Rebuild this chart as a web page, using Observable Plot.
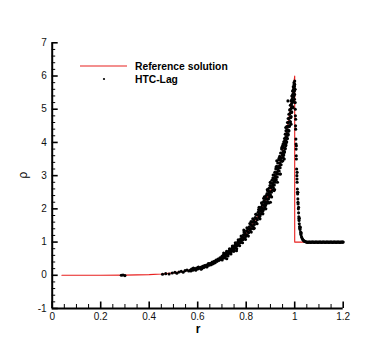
<!DOCTYPE html>
<html><head><meta charset="utf-8">
<script src="https://cdn.jsdelivr.net/npm/d3@7"></script>
<script src="https://cdn.jsdelivr.net/npm/@observablehq/plot@0.6"></script>
<style>
body{margin:0;background:#fff;}
#wrap{position:relative;width:390px;height:347px;font-family:"Liberation Sans",Arial,sans-serif;}
#ov{position:absolute;left:0;top:0;pointer-events:none;}
</style>
</head><body><div id="wrap"></div>
<script>
// Reference solution (r, rho)
const refR   = [0.04, 0.10, 0.20, 0.30, 0.40, 0.45, 0.50, 0.55, 0.60, 0.65, 0.70, 0.75, 0.80, 0.85, 0.90, 0.9342, 0.9622, 0.9773, 0.9913, 1.0, 1.0, 1.2];
const refRho = [0.00, 0.00, 0.0002, 0.004, 0.02, 0.04, 0.072, 0.13, 0.21, 0.34, 0.54, 0.83, 1.25, 1.80, 2.545, 3.245, 4.128, 4.796, 5.465, 6.0, 1.0, 1.0];

// HTC-Lag scatter (r, rho), grouped by region
const htcSparse = [[0.285,0.00],[0.292,0.01],[0.300,-0.01],[0.455,0.03],[0.468,0.05],[0.482,0.04],[0.495,0.07],[0.506,0.09],[0.514,0.06],[0.523,0.10],[0.532,0.12],[0.540,0.09],[0.548,0.14],[0.556,0.16],[0.563,0.13]];
const htcLow = [[0.570,0.16],[0.575,0.19],[0.580,0.15],[0.585,0.20],[0.590,0.18],[0.595,0.22],[0.600,0.19],[0.603,0.25],[0.607,0.21],[0.612,0.24],[0.616,0.20],[0.620,0.27],[0.624,0.23],[0.628,0.29],[0.632,0.26],[0.636,0.31],[0.640,0.28],[0.644,0.35],[0.648,0.30],[0.652,0.36],[0.656,0.32],[0.660,0.40],[0.664,0.35],[0.668,0.42],[0.672,0.38],[0.676,0.46],[0.680,0.42],[0.684,0.49],[0.688,0.45],[0.692,0.53],[0.696,0.48],[0.700,0.57],[0.703,0.51],
  [0.572,0.13],[0.582,0.22],[0.592,0.15],[0.602,0.23],[0.614,0.18],[0.626,0.27],[0.638,0.25],[0.646,0.33],[0.658,0.36],[0.666,0.38],[0.674,0.43],[0.682,0.46],[0.690,0.49],[0.698,0.52]];
const htcMidA = [[0.705,0.60],[0.708,0.55],[0.711,0.63],[0.714,0.57],[0.717,0.66],[0.720,0.61],[0.723,0.70],[0.726,0.64],[0.729,0.74],[0.732,0.67],[0.735,0.77],[0.738,0.70],[0.741,0.81],[0.744,0.74],[0.747,0.86],[0.750,0.78],[0.753,0.90],[0.756,0.83],[0.759,0.95],[0.762,0.88],[0.765,1.00],[0.768,0.92],[0.771,1.05],[0.774,0.97],[0.777,1.10],[0.780,1.00],[0.783,1.16],[0.786,1.07],[0.789,1.22],[0.792,1.12],[0.795,1.27],[0.798,1.17],[0.801,1.34],[0.804,1.22],[0.807,1.40],[0.810,1.28],[0.813,1.46],[0.816,1.35],[0.819,1.53],[0.822,1.41],[0.825,1.60],[0.828,1.47],[0.831,1.67],[0.834,1.53],[0.837,1.74],[0.840,1.60],[0.843,1.82],[0.846,1.67],[0.849,1.90],[0.852,1.74],
  [0.7065,0.58],[0.7155,0.62],[0.7245,0.66],[0.7335,0.72],[0.7425,0.78],[0.7515,0.84],[0.7605,0.92],[0.7695,0.99],[0.7785,1.06],[0.7875,1.14],[0.7965,1.22],[0.8055,1.32],[0.8145,1.40],[0.8235,1.50],[0.8325,1.60],[0.8415,1.71],[0.8505,1.82],
  [0.79,1.36],[0.76,0.74],[0.82,1.62],[0.72,0.50],[0.83,1.40],
  [0.701,0.46],[0.707,0.67],[0.713,0.52],[0.719,0.72],[0.725,0.58],[0.731,0.80],[0.737,0.64],[0.743,0.88],[0.749,0.72],[0.755,0.98],[0.761,0.80],[0.767,1.07],[0.773,0.89],[0.779,1.18],[0.785,0.98],[0.791,1.30],[0.797,1.08],[0.803,1.43],[0.809,1.18],[0.815,1.56],[0.821,1.30],[0.827,1.70],[0.833,1.42],[0.839,1.84],[0.845,1.55],[0.851,1.98]];
const htcMidB = [[0.854,1.95],[0.856,1.78],[0.858,1.99],[0.860,1.84],[0.862,2.05],[0.864,1.88],[0.866,2.12],[0.868,1.93],[0.870,2.20],[0.872,1.98],[0.874,2.25],[0.876,2.04],[0.878,2.33],[0.880,2.10],[0.882,2.40],[0.884,2.16],[0.886,2.46],[0.888,2.22],[0.890,2.55],[0.892,2.30],[0.894,2.62],[0.896,2.36],[0.898,2.70],[0.900,2.42],[0.902,2.77],[0.904,2.50],[0.906,2.86],[0.908,2.56],[0.910,2.93],[0.912,2.64],[0.914,3.02],[0.916,2.72],[0.918,3.10],[0.920,2.80],[0.922,3.20],[0.924,2.88],[0.926,3.28],[0.928,2.96],[0.930,3.38],[0.932,3.05],[0.934,3.47],[0.936,3.14],[0.938,3.58],[0.940,3.24],[0.942,3.68],[0.944,3.33],[0.946,3.80],[0.948,3.43],[0.950,3.90],
  [0.855,1.86],[0.861,1.94],[0.867,2.02],[0.873,2.10],[0.879,2.20],[0.885,2.30],[0.891,2.42],[0.897,2.52],[0.903,2.64],[0.909,2.75],[0.915,2.86],[0.921,2.98],[0.927,3.10],[0.933,3.24],[0.939,3.38],[0.945,3.54],[0.951,3.70],
  [0.872,2.32],[0.900,2.20],[0.926,3.45],[0.940,3.05],[0.888,2.55],[0.915,2.55],
  [0.857,1.70],[0.863,2.18],[0.869,1.85],[0.875,2.36],[0.881,2.00],[0.887,2.58],[0.893,2.18],[0.899,2.80],[0.905,2.36],[0.911,3.02],[0.917,2.58],[0.923,3.26],[0.929,2.80],[0.935,3.52],[0.941,3.05],[0.947,3.85],
  [0.853,2.05],[0.865,1.98],[0.877,2.15],[0.883,2.30],[0.895,2.48],[0.907,2.68],[0.913,2.80],[0.919,2.92],[0.925,3.05],[0.931,3.18],[0.937,3.30],[0.943,3.46],[0.949,3.62]];
const htcPeak = [[0.952,3.55],[0.953,3.85],[0.955,3.62],[0.956,3.95],[0.958,3.72],[0.959,4.05],[0.961,3.82],[0.962,4.15],[0.964,3.92],[0.965,4.25],[0.967,4.02],[0.968,4.38],[0.970,4.12],[0.971,4.48],[0.973,4.25],[0.974,4.60],[0.976,4.36],[0.977,4.72],[0.979,4.50],[0.980,4.86],[0.982,4.62],[0.983,5.00],[0.985,4.78],[0.986,5.15],[0.988,4.92],[0.989,5.30],[0.991,5.08],[0.992,5.45],[0.994,5.25],[0.995,5.60],[0.997,5.42],[0.998,5.75],[0.999,5.55],[1.000,5.85],
  [0.954,3.74],[0.957,3.84],[0.960,3.95],[0.963,4.05],[0.966,4.16],[0.969,4.27],[0.972,4.38],[0.975,4.50],[0.978,4.62],[0.981,4.75],[0.984,4.90],[0.987,5.04],[0.990,5.20],[0.993,5.36],[0.996,5.52],[0.9985,5.68],
  [0.972,5.25],[0.963,4.45],[0.985,4.55],[0.993,5.05],[0.957,3.50],[0.999,5.30],[1.001,5.60],
  [0.951,3.45],[0.952,3.95],[0.954,3.62],[0.955,4.02],[0.957,3.70],[0.958,4.12],[0.960,3.80],[0.961,4.25],[0.963,3.90],[0.964,4.35],[0.966,4.00],[0.967,4.48],[0.969,4.12],[0.970,4.60],[0.972,4.22],[0.973,4.72],[0.975,4.34],[0.976,4.85],[0.978,4.48],[0.979,4.98],[0.981,4.62],[0.982,5.12],[0.984,4.75],[0.985,5.25],[0.987,4.90],[0.988,5.40],[0.990,5.05],[0.991,5.55],[0.993,5.22],[0.994,5.68],[0.996,5.38],[0.997,5.80],[0.9975,5.60],[0.999,5.70],[1.000,5.75],[0.9995,5.45]];
const htcTail = [[1.001,5.6],[1.002,5.2],[1.003,4.8],[1.004,4.4],[1.005,4.1],[1.006,3.8],[1.007,3.5],[1.008,3.2],[1.009,3.0],[1.010,2.8],[1.011,2.6],[1.012,2.45],[1.013,2.3],[1.014,2.15],[1.015,2.0],[1.016,1.88],[1.017,1.76],[1.018,1.65],[1.019,1.55],[1.020,1.47],[1.022,1.38],[1.024,1.30],[1.026,1.22],[1.028,1.16],[1.030,1.12],[1.033,1.08],[1.036,1.05],[1.039,1.03],[1.042,1.02],[1.045,1.01],
  [1.0035,4.5],[1.0065,3.6],[1.0095,2.9],[1.0135,2.2],[1.0175,1.7],[1.021,1.42],[1.025,1.25],[1.0025,5.0],[1.0055,3.95],[1.0115,2.5],
  [1.004,4.7],[1.007,3.9],[1.010,3.1],[1.013,2.5],[1.016,2.05],[1.019,1.72],[1.023,1.45],[1.027,1.28]];
const htcFlat = [[1.048,1.0],[1.051,1.0],[1.054,0.99],[1.057,1.0],[1.060,1.0],[1.063,1.0],[1.066,0.99],[1.069,1.0],[1.072,1.0],[1.075,1.0],[1.078,1.0],[1.081,0.99],[1.084,1.0],[1.087,1.0],[1.090,1.0],[1.093,1.0],[1.096,0.99],[1.099,1.0],[1.102,1.0],[1.105,1.0],[1.108,1.0],[1.111,0.99],[1.114,1.0],[1.117,1.0],[1.120,1.0],[1.123,1.0],[1.126,0.99],[1.129,1.0],[1.132,1.0],[1.135,1.0],[1.138,1.0],[1.141,0.99],[1.144,1.0],[1.147,1.0],[1.150,1.0],[1.153,1.0],[1.156,0.99],[1.159,1.0],[1.162,1.0],[1.165,1.0],[1.168,1.0],[1.171,0.99],[1.174,1.0],[1.177,1.0],[1.180,1.0],[1.183,1.0],[1.186,0.99],[1.189,1.0],[1.192,1.0],[1.195,1.0],[1.198,1.0],[1.200,1.0]];

// Axis ticks
const xMajor = [0, 0.2, 0.4, 0.6, 0.8, 1, 1.2];
const yMajor = [-1, 0, 1, 2, 3, 4, 5, 6, 7];
const xMinor = d3.range(0, 1.2001, 0.05).filter(v => Math.abs(v*5 - Math.round(v*5)) > 1e-6);
const yMinor = d3.range(-1, 7.0001, 0.2).filter(v => Math.abs(v - Math.round(v)) > 1e-6);

const ref = refR.map((r, i) => ({r, rho: refRho[i]}));
const htc = [...htcSparse, ...htcLow, ...htcMidA, ...htcMidB, ...htcPeak, ...htcTail, ...htcFlat].map(([r, rho]) => ({r, rho}));

const W = 390, H = 347;
const mL = 51.7, mR = 47.3, mT = 42.3, mB = 39;
const yPx = 8 / (H - mT - mB);
const xPx = 1.2 / (W - mL - mR);

const chart = Plot.plot({
  width: W, height: H,
  marginLeft: mL, marginRight: mR, marginTop: mT, marginBottom: mB,
  style: {fontFamily: "'Liberation Sans', Arial, sans-serif", fontSize: "10px", background: "#fff", overflow: "visible"},
  x: {domain: [0, 1.2], axis: null},
  y: {domain: [-1, 7], axis: null},
  marks: [
    Plot.line(ref, {x: "r", y: "rho", stroke: "#e8201f", strokeWidth: 1.1}),
    Plot.dot(htc, {x: "r", y: "rho", r: 1.55, fill: "#000", stroke: null}),
    // axis lines
    Plot.ruleX([0], {y1: -1, y2: 7, stroke: "#000", strokeWidth: 2}),
    Plot.ruleY([-1], {x1: 0, x2: 1.2, stroke: "#000", strokeWidth: 2}),
    // x ticks (inward)
    Plot.ruleX(xMajor, {x: d => d, y1: -1, y2: -1 + 6.5 * yPx, stroke: "#000", strokeWidth: 1.6}),
    Plot.ruleX(xMinor, {x: d => d, y1: -1, y2: -1 + 4 * yPx, stroke: "#000", strokeWidth: 1}),
    // y ticks (inward)
    Plot.ruleY(yMajor, {y: d => d, x1: 0, x2: 6 * xPx, stroke: "#000", strokeWidth: 1.6}),
    Plot.ruleY(yMinor, {y: d => d, x1: 0, x2: 3.5 * xPx, stroke: "#000", strokeWidth: 1}),
    // tick labels
    Plot.text(xMajor, {x: d => d, y: () => -1, text: d => String(d), lineAnchor: "top", dy: 4, fontSize: 10, fill: "#111"}),
    Plot.text(yMajor, {x: () => 0, y: d => d, text: d => String(d), textAnchor: "end", dx: -5.5, fontSize: 10, fill: "#111"})
  ]
});

const wrap = document.getElementById("wrap");
wrap.appendChild(chart);

// Legend and axis titles overlay
const ns = "http://www.w3.org/2000/svg";
const ov = document.createElementNS(ns, "svg");
ov.setAttribute("id", "ov");
ov.setAttribute("width", W);
ov.setAttribute("height", H);
ov.innerHTML = `
  <line x1="80" y1="66" x2="127" y2="66" stroke="#e8201f" stroke-width="1.1"/>
  <circle cx="104" cy="79" r="1.1" fill="#000"/>
  <text x="135" y="69.8" font-family="Liberation Sans, Arial, sans-serif" font-size="10.3" font-weight="bold" fill="#000">Reference solution</text>
  <text x="135" y="82.8" font-family="Liberation Sans, Arial, sans-serif" font-size="10.3" font-weight="bold" fill="#000">HTC-Lag</text>
  <text x="198" y="333" text-anchor="middle" font-family="Liberation Sans, Arial, sans-serif" font-size="12" font-weight="bold" fill="#000">r</text>
  <text transform="translate(27,175) rotate(-90)" text-anchor="middle" font-family="Liberation Sans, Arial, sans-serif" font-size="12" fill="#000">ρ</text>
`;
wrap.appendChild(ov);
</script>
</body></html>
